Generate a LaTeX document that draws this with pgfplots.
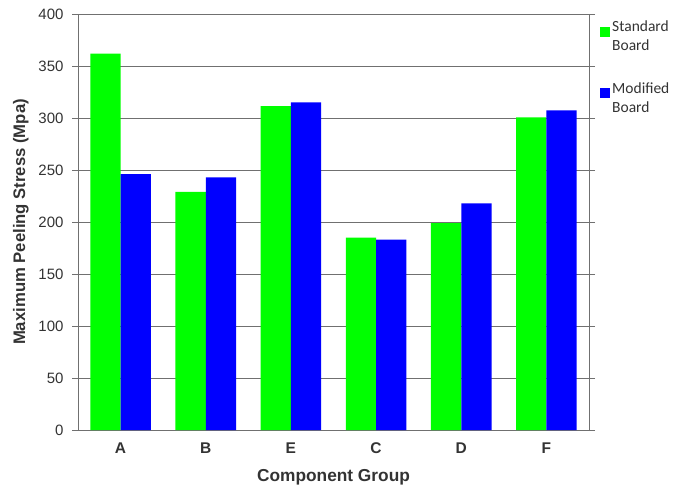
\documentclass[border=0pt]{standalone}
\usepackage{pgfplots}
\pgfplotsset{compat=1.18}
\usetikzlibrary{calc}
\usepackage{fontspec}
\setmainfont{Liberation Sans}
\newfontfamily\legfont{Carlito}
\definecolor{txt}{HTML}{333333}
\definecolor{grd}{HTML}{707070}
\begin{document}
\begin{tikzpicture}
\begin{axis}[
  name=ax,
  scale only axis,
  width=511pt, height=416pt,
  xmin=-0.5, xmax=5.5,
  ymin=0, ymax=400,
  ytick={0,50,...,400},
  xtick={0,1,2,3,4,5},
  xticklabels={A,B,E,C,D,F},
  xtick style={draw=none},
  ytick style={draw=grd, line width=0.8pt},
  tick align=outside,
  major tick length=6pt,
  ymajorgrids,
  grid style={draw=grd, line width=0.8pt},
  axis line style={draw=grd, line width=0.8pt},
  /pgf/number format/assume math mode=true,
  yticklabel style={font=\fontsize{15}{17}\selectfont, text=txt, xshift=-5pt},
  xticklabel style={font=\fontsize{15.5}{18}\selectfont\bfseries, text=txt, yshift=-3pt},
  xlabel={Component Group},
  ylabel={Maximum Peeling Stress (Mpa)},
  xlabel style={font=\fontsize{17.3}{20}\selectfont\bfseries, text=txt, yshift=-9pt},
  ylabel style={font=\fontsize{16.7}{20}\selectfont\bfseries, text=txt, yshift=3pt},
  ybar,
  bar width=30.3pt,
  legend style={at={(1.0,0.993)}, anchor=north west, draw=none, fill=none,
    font=\legfont\fontsize{15.5}{19}\selectfont, text=txt,
    cells={align=left, anchor=west}, row sep=26pt, inner xsep=11pt},
  legend image code/.code={\fill[#1] (0pt,0pt) rectangle (10pt,10pt);},
]
\addplot[fill={rgb,255:red,0;green,255;blue,0}, draw=none, bar shift=-15.15pt] coordinates {(0,362) (1,229) (2,311.5) (3,185) (4,199) (5,300.7)};
\addplot[fill={rgb,255:red,0;green,0;blue,255}, draw=none, bar shift=15.15pt] coordinates {(0,246) (1,243) (2,315) (3,183) (4,218) (5,307.4)};
\legend{Standard\\Board, Modified\\Board}
\end{axis}
\pgfresetboundingbox
\path[use as bounding box] ($(ax.south west)+(-78pt,-59pt)$) rectangle ($(ax.north east)+(97pt,14pt)$);
\end{tikzpicture}
\end{document}
